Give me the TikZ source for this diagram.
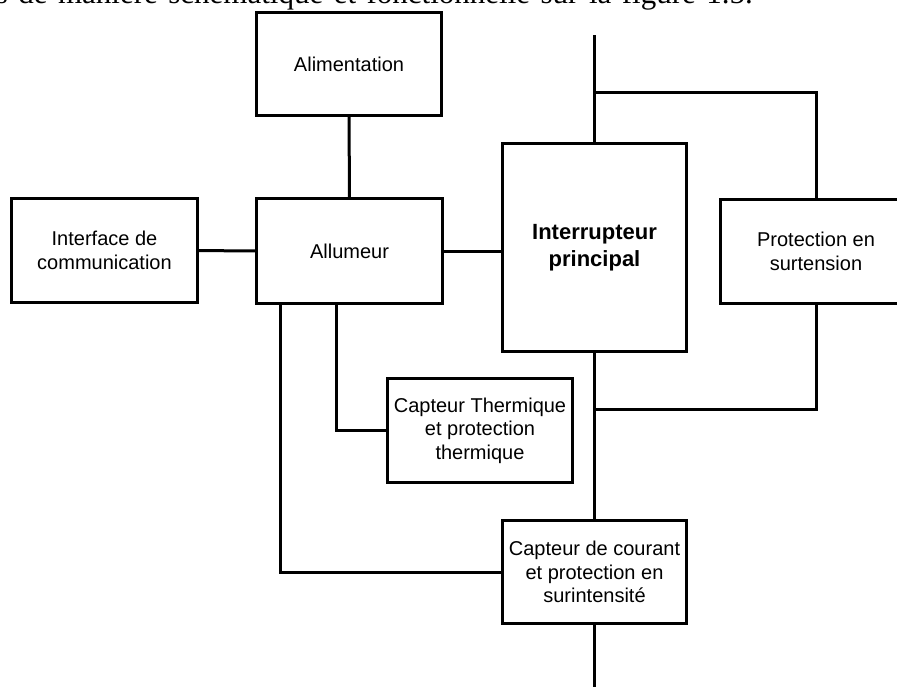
\documentclass[tikz,border=0pt]{standalone}
\usepackage{fontspec}
\setmainfont{Liberation Serif}
\setsansfont{Liberation Sans}
\begin{document}
\begin{tikzpicture}[
    x=1pt, y=-1pt,
    bloc/.style={rectangle, draw, line width=3pt, inner sep=0pt, align=center, font=\sffamily\fontsize{20}{23.5}\selectfont},
    wire/.style={line width=3pt}
]
\clip (0,0) rectangle (897,686);
\useasboundingbox (0,0) rectangle (897,686);

% Texte du document (coupe)
\node[anchor=base east, inner sep=0pt, font=\fontsize{31}{33}\selectfont] (intro) at (753,3) {\makebox[757pt][s]{s de manière schématique et fonctionnelle sur la figure 1.5.}};

% Alimentation
\node[bloc, minimum width=185pt, minimum height=103pt] (alim) at (349,64) {Alimentation};

% Allumeur
\node[bloc, minimum width=186pt, minimum height=105pt] (allum) at (349.5,251) {Allumeur};

% Interface de communication
\node[bloc, minimum width=186pt, minimum height=104pt] (iface) at (104.5,250.5) {Interface de\\communication};

% Interrupteur principal
\node[bloc, minimum width=184pt, minimum height=208pt, font=\sffamily\bfseries\fontsize{22}{27}\selectfont] (inter) at (594.5,247.5) {Interrupteur\\principal};

% Protection en surtension
\node[bloc, minimum width=192pt, minimum height=104pt] (prot) at (816,251.5) {Protection en\\surtension};

% Capteur thermique
\node[bloc, minimum width=185pt, minimum height=104pt] (therm) at (480,430.5) {Capteur Thermique\\et protection\\thermique};

% Capteur de courant
\node[bloc, minimum width=184pt, minimum height=103pt] (cour) at (594.5,572) {Capteur de courant\\et protection en\\surintensité};

% Points de la ligne principale
\coordinate (haut) at (594.5,35);
\coordinate (jhaut) at (594.5,92);
\coordinate (jbas) at (594.5,409);
\coordinate (bas) at (594.5,690);

% Liaisons
\draw[wire] (alim) -- (allum);
\draw[wire] (iface) -- (allum);
\draw[wire] (allum.east) -- (allum.east -| inter.west);
\draw[wire] (haut) -- (inter.north);
\draw[wire] (jhaut) -| (prot.north);
\draw[wire] (inter.south) -- (cour.north);
\draw[wire] (prot.south) |- (jbas);
\draw[wire] (cour.south) -- (bas);
\draw[wire] ([xshift=-13.5pt]allum.south) |- (therm.west);
\draw[wire] ([xshift=-69.5pt]allum.south) |- (cour.west);

\end{tikzpicture}
\end{document}
